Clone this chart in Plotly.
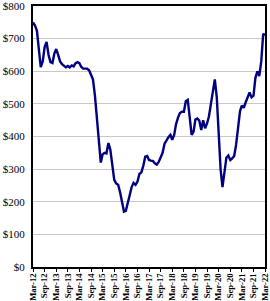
import plotly.graph_objects as go
import pandas as pd

values = [
    750, 740, 725, 670, 613, 630, 675, 690, 650, 628,
    625, 655, 668, 650, 630, 622, 618, 612, 616, 612,
    618, 615, 625, 628, 625, 613, 608, 608, 608, 603,
    590, 575, 525, 450, 380, 320, 345, 350, 348, 380,
    360, 310, 267, 256, 252, 230, 200, 170, 172, 193,
    220, 245, 258, 252, 262, 285, 290, 310, 338, 340,
    328, 326, 325, 318, 314, 322, 335, 350, 378, 390,
    398, 405, 390, 405, 438, 458, 472, 476, 476, 508,
    512, 460, 405, 415, 452, 455, 449, 420, 450, 425,
    440, 462, 505, 540, 575, 520, 410, 300, 245, 300,
    335, 342, 328, 333, 340, 375, 420, 478, 495, 488,
    505, 520, 535, 520, 525, 580, 600, 585, 630, 715,
    710,
]
dates = pd.date_range("2012-03-01", periods=len(values), freq="MS")

tick_dates = pd.date_range("2012-03-01", "2022-03-01", freq="6MS")
tick_labels = [d.strftime("%b-%y") for d in tick_dates]
y_ticks = [0, 100, 200, 300, 400, 500, 600, 700, 800]
y_labels = [f"${v}" for v in y_ticks]

fig = go.Figure()
fig.add_trace(go.Scatter(x=dates, y=values, mode="lines",
                         line=dict(color="#000080", width=2.4),
                         showlegend=False))

fig.update_layout(
    width=270, height=301,
    margin=dict(l=33, r=5, t=6, b=34),
    paper_bgcolor="white", plot_bgcolor="white",
    font=dict(family="Liberation Serif, Times New Roman, serif", color="black"),
)
fig.update_xaxes(
    range=[tick_dates[0], tick_dates[-1]],
    tickvals=tick_dates, ticktext=tick_labels,
    tickangle=-90, tickfont=dict(size=8.6, weight="bold"),
    showgrid=False, showline=True, linecolor="black", linewidth=2,
    mirror=True, ticks="outside", ticklen=3, tickcolor="black",
    zeroline=False, automargin=False, ticklabeloverflow="allow",
    ticklabelstandoff=-2,
)
fig.update_yaxes(
    range=[0, 800], tickvals=y_ticks, ticktext=y_labels,
    tickfont=dict(size=11),
    showgrid=True, gridcolor="#c8c8c8", gridwidth=1.2,
    showline=True, linecolor="black", linewidth=2, mirror=True,
    ticks="", ticklabelstandoff=4, zeroline=False, automargin=False,
    ticklabeloverflow="allow",
)

fig.write_html("out.html")
